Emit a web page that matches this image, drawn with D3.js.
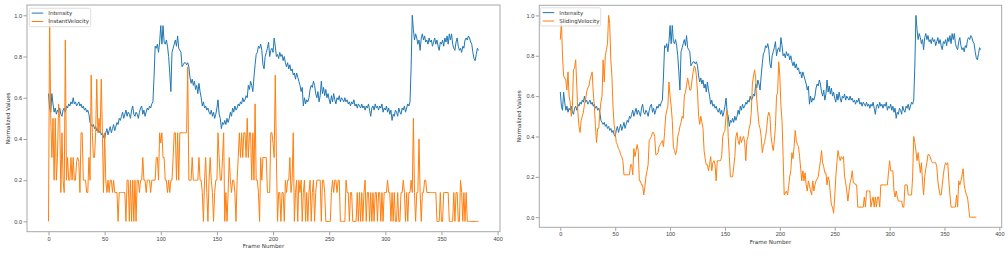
<!DOCTYPE html>
<html>
<head>
<meta charset="utf-8">
<script src="https://cdn.jsdelivr.net/npm/d3@7"></script>
<style>
    body { margin: 0; background: #fff; }
    svg { display: block; font-family: "DejaVu Sans", sans-serif; }
    .tick text { fill: #444; font-size: 5.6px; }
    .tick line { stroke: #888; stroke-width: 0.8; }
    .axis-label { fill: #333; font-size: 5.6px; }
    .legend text { fill: #333; font-size: 5.5px; }
</style>
</head>
<body>
<svg id="chart" width="1008" height="261"></svg>
<script>
// Intensity, frames 0..383
const intensity = [
    0.62, 0.55, 0.53, 0.62, 0.57, 0.53, 0.55, 0.52, 0.54, 0.53,
    0.55, 0.52, 0.51, 0.54, 0.55, 0.53, 0.56, 0.55, 0.57, 0.56,
    0.58, 0.57, 0.60, 0.57, 0.58, 0.56, 0.57, 0.58, 0.56, 0.57,
    0.55, 0.56, 0.54, 0.55, 0.53, 0.54, 0.52, 0.48, 0.47, 0.46,
    0.47, 0.45, 0.46, 0.44, 0.45, 0.43, 0.44, 0.42, 0.43, 0.41,
    0.40, 0.43, 0.45, 0.42, 0.44, 0.46, 0.43, 0.45, 0.47, 0.44,
    0.46, 0.48, 0.47, 0.50, 0.49, 0.51, 0.53, 0.50, 0.52, 0.54,
    0.51, 0.53, 0.52, 0.50, 0.54, 0.56, 0.52, 0.51, 0.53, 0.52,
    0.50, 0.53, 0.55, 0.56, 0.52, 0.54, 0.51, 0.53, 0.55, 0.54,
    0.56, 0.55, 0.57, 0.58, 0.70, 0.85, 0.84, 0.86, 0.82, 0.87,
    0.95, 0.86, 0.95, 0.87, 0.86, 0.88, 0.85, 0.80, 0.72, 0.63,
    0.82, 0.84, 0.86, 0.88, 0.85, 0.90, 0.84, 0.83, 0.82, 0.75,
    0.76, 0.77, 0.77, 0.76, 0.77, 0.75, 0.70, 0.67, 0.69, 0.66,
    0.68, 0.64, 0.66, 0.62, 0.67, 0.63, 0.60, 0.56, 0.58, 0.55,
    0.56, 0.54, 0.55, 0.53, 0.52, 0.54, 0.51, 0.53, 0.50, 0.52,
    0.55, 0.59, 0.52, 0.50, 0.45, 0.48, 0.47, 0.49, 0.47, 0.50,
    0.48, 0.50, 0.53, 0.51, 0.55, 0.53, 0.56, 0.54, 0.55, 0.57,
    0.56, 0.58, 0.57, 0.60, 0.58, 0.59, 0.61, 0.60, 0.66, 0.64,
    0.68, 0.66, 0.63, 0.70, 0.76, 0.81, 0.82, 0.85, 0.84, 0.86,
    0.83, 0.76, 0.74, 0.80, 0.82, 0.84, 0.87, 0.80, 0.83, 0.84,
    0.82, 0.89, 0.85, 0.80, 0.81, 0.79, 0.82, 0.80, 0.81, 0.78,
    0.80, 0.77, 0.75, 0.77, 0.74, 0.76, 0.73, 0.74, 0.71, 0.72,
    0.69, 0.72, 0.70, 0.68, 0.66, 0.63, 0.65, 0.56, 0.60, 0.57,
    0.59, 0.58, 0.60, 0.64, 0.66, 0.65, 0.68, 0.66, 0.62, 0.60,
    0.63, 0.58, 0.61, 0.68, 0.62, 0.65, 0.61, 0.64, 0.60, 0.62,
    0.59, 0.57, 0.61, 0.58, 0.62, 0.59, 0.57, 0.60, 0.59, 0.61,
    0.58, 0.60, 0.59, 0.58, 0.60, 0.58, 0.59, 0.57, 0.58, 0.56,
    0.58, 0.57, 0.59, 0.56, 0.57, 0.55, 0.57, 0.56, 0.55, 0.57,
    0.55, 0.56, 0.54, 0.56, 0.55, 0.57, 0.54, 0.51, 0.55, 0.56,
    0.54, 0.57, 0.55, 0.56, 0.54, 0.56, 0.55, 0.57, 0.53, 0.55,
    0.54, 0.56, 0.53, 0.55, 0.52, 0.54, 0.49, 0.52, 0.51, 0.54,
    0.53, 0.51, 0.55, 0.53, 0.52, 0.55, 0.54, 0.56, 0.53, 0.55,
    0.57, 0.56, 0.58, 0.75, 1.00, 0.93, 0.88, 0.91, 0.89, 0.86,
    0.88, 0.83, 0.89, 0.91, 0.88, 0.90, 0.87, 0.88, 0.86, 0.89,
    0.87, 0.88, 0.85, 0.87, 0.89, 0.86, 0.88, 0.85, 0.83, 0.87,
    0.86, 0.88, 0.85, 0.89, 0.87, 0.90, 0.86, 0.91, 0.88, 0.91,
    0.86, 0.84, 0.83, 0.87, 0.89, 0.85, 0.83, 0.84, 0.82, 0.85,
    0.84, 0.88, 0.89, 0.88, 0.90, 0.89, 0.87, 0.86, 0.82, 0.79,
    0.78, 0.81, 0.84, 0.83
];

// InstantVelocity, frames 0..383
const instantVelocity = [
    0, 1.0, 0.5, 0.31, 0.5, 0.2, 0.5, 0.2, 0.31, 0.57,
    0.5, 0.14, 0.43, 0.2, 0.14, 0.88, 0.2, 0.31, 0.2, 0.2,
    0.31, 0.2, 0.31, 0.2, 0.2, 0.29, 0.31, 0.29, 0.14, 0.43,
    0.43, 0.2, 0.2, 0.2, 0.14, 0.14, 0.31, 0.2, 0.71, 0.43,
    0.31, 0.31, 0.43, 0.69, 0.43, 0.5, 0.43, 0.69, 0.43, 0.14,
    0.43, 0.2, 0.14, 0.2, 0.14, 0.2, 0.2, 0.14, 0.2, 0.14,
    0.14, 0.14, 0, 0.14, 0.14, 0.14, 0.14, 0.14, 0.14, 0,
    0.2, 0.2, 0, 0.2, 0, 0.2, 0, 0.2, 0, 0.2,
    0.2, 0.14, 0.2, 0.2, 0.31, 0.2, 0.2, 0.14, 0.2, 0.2,
    0.2, 0.14, 0.2, 0.2, 0.2, 0.2, 0.31, 0.31, 0.2, 0.43,
    0.38, 0.43, 0.31, 0.31, 0.2, 0.2, 0.14, 0.2, 0.14, 0.2,
    0.2, 0.31, 0.43, 0.43, 0.2, 0.43, 0.2, 0.43, 0.43, 0.43,
    0.43, 0.43, 0.43, 0.43, 0.75, 0.2, 0.2, 0.2, 0.31, 0.2,
    0.2, 0.2, 0.2, 0.2, 0.31, 0.2, 0.2, 0.14, 0, 0.2,
    0.31, 0.14, 0, 0.2, 0.31, 0.2, 0.14, 0, 0.14, 0.2,
    0.2, 0.43, 0.31, 0.2, 0.2, 0.31, 0.43, 0, 0.14, 0,
    0.14, 0.31, 0.2, 0.14, 0.2, 0.2, 0.14, 0, 0.2, 0.31,
    0.43, 0.31, 0.43, 0.31, 0.43, 0.43, 0.31, 0.5, 0.31, 0.43,
    0.43, 0.2, 0.43, 0.2, 0.57, 0.2, 0.2, 0.14, 0, 0.31,
    0.2, 0.31, 0.31, 0.31, 0.31, 0.14, 0.14, 0.14, 0.43, 0.43,
    0.38, 0.31, 0.71, 0.31, 0, 0.14, 0.14, 0, 0.14, 0.14,
    0, 0.2, 0.14, 0.2, 0.2, 0.31, 0.14, 0.2, 0.43, 0,
    0.14, 0.2, 0, 0.2, 0.14, 0.2, 0, 0.14, 0.2, 0,
    0.14, 0, 0.14, 0.2, 0, 0.14, 0.2, 0, 0.14, 0.2,
    0.2, 0.2, 0.2, 0, 0.2, 0.2, 0.14, 0, 0, 0,
    0, 0, 0.14, 0.2, 0.14, 0.2, 0.2, 0.14, 0.2, 0.2,
    0, 0, 0, 0, 0, 0.2, 0.14, 0.14, 0, 0.14,
    0.14, 0, 0, 0, 0, 0.14, 0, 0.14, 0, 0.14,
    0, 0.14, 0.2, 0, 0.14, 0.14, 0, 0.14, 0, 0.14,
    0, 0.14, 0.14, 0, 0.14, 0.14, 0, 0.14, 0, 0.14,
    0.14, 0.14, 0.2, 0.14, 0.14, 0, 0.14, 0, 0.14, 0,
    0, 0.14, 0, 0, 0.14, 0.14, 0.2, 0.14, 0, 0.14,
    0, 0.14, 0.14, 0.2, 0.14, 0.5, 0.14, 0, 0.14, 0.14,
    0.4, 0.14, 0, 0.14, 0.14, 0.2, 0.2, 0.14, 0.14, 0.14,
    0.14, 0.14, 0.14, 0.14, 0.14, 0.14, 0, 0, 0, 0.14,
    0, 0, 0.14, 0.14, 0.14, 0.14, 0.14, 0, 0, 0,
    0, 0.14, 0, 0.14, 0.14, 0, 0, 0.2, 0.14, 0,
    0.14, 0, 0.14, 0, 0, 0, 0, 0, 0, 0,
    0, 0, 0, 0
];

// SlidingVelocity, frames 0..379
const slidingVelocity = [
    0.88, 0.97, 0.80, 0.70, 0.69, 0.68, 0.63, 0.72, 0.60, 0.57,
    0.50, 0.55, 0.73, 0.74, 0.78, 0.65, 0.52, 0.45, 0.42, 0.48,
    0.50, 0.52, 0.56, 0.58, 0.62, 0.64, 0.65, 0.68, 0.70, 0.72,
    0.62, 0.55, 0.45, 0.37, 0.44, 0.44, 0.52, 0.57, 0.60, 0.78,
    0.67, 0.80, 0.83, 0.86, 1.00, 0.96, 0.78, 0.70, 0.55, 0.46,
    0.42, 0.37, 0.36, 0.34, 0.33, 0.31, 0.30, 0.28, 0.21, 0.21,
    0.21, 0.21, 0.21, 0.21, 0.26, 0.26, 0.21, 0.34, 0.30, 0.33,
    0.36, 0.33, 0.18, 0.18, 0.16, 0.16, 0.11, 0.15, 0.20, 0.23,
    0.26, 0.38, 0.39, 0.40, 0.42, 0.42, 0.40, 0.31, 0.31, 0.32,
    0.35, 0.36, 0.37, 0.38, 0.35, 0.42, 0.50, 0.53, 0.55, 0.67,
    0.60, 0.55, 0.48, 0.35, 0.33, 0.31, 0.33, 0.40, 0.42, 0.45,
    0.47, 0.50, 0.49, 0.60, 0.62, 0.65, 0.69, 0.66, 0.63, 0.63,
    0.68, 0.72, 0.75, 0.74, 0.70, 0.62, 0.50, 0.46, 0.50, 0.47,
    0.44, 0.33, 0.29, 0.26, 0.26, 0.23, 0.26, 0.30, 0.23, 0.27,
    0.28, 0.26, 0.18, 0.28, 0.28, 0.28, 0.28, 0.30, 0.40, 0.42,
    0.43, 0.50, 0.53, 0.40, 0.30, 0.20, 0.20, 0.20, 0.25, 0.30,
    0.40, 0.42, 0.38, 0.36, 0.40, 0.37, 0.39, 0.40, 0.37, 0.28,
    0.38, 0.40, 0.44, 0.46, 0.52, 0.66, 0.70, 0.73, 0.69, 0.58,
    0.52, 0.46, 0.44, 0.40, 0.32, 0.35, 0.37, 0.40, 0.44, 0.50,
    0.52, 0.50, 0.40, 0.36, 0.33, 0.38, 0.45, 0.60, 0.62, 0.77,
    0.70, 0.55, 0.48, 0.30, 0.11, 0.12, 0.13, 0.11, 0.15, 0.20,
    0.23, 0.32, 0.29, 0.35, 0.43, 0.38, 0.36, 0.35, 0.30, 0.24,
    0.18, 0.23, 0.18, 0.22, 0.16, 0.13, 0.18, 0.16, 0.13, 0.11,
    0.18, 0.13, 0.16, 0.18, 0.19, 0.20, 0.24, 0.28, 0.33, 0.27,
    0.25, 0.22, 0.22, 0.16, 0.20, 0.18, 0.12, 0.06, 0.05, 0.02,
    0.10, 0.20, 0.27, 0.33, 0.30, 0.28, 0.30, 0.29, 0.30, 0.20,
    0.17, 0.13, 0.08, 0.13, 0.17, 0.19, 0.23, 0.17, 0.17, 0.16,
    0.16, 0.05, 0.05, 0.05, 0.05, 0.05, 0.05, 0.10, 0.05, 0.13,
    0.13, 0.13, 0.13, 0.05, 0.08, 0.10, 0.05, 0.10, 0.05, 0.10,
    0.10, 0.05, 0.16, 0.16, 0.16, 0.16, 0.16, 0.16, 0.16, 0.22,
    0.28, 0.23, 0.23, 0.23, 0.13, 0.10, 0.13, 0.10, 0.08, 0.08,
    0.08, 0.08, 0.05, 0.05, 0.16, 0.16, 0.16, 0.11, 0.11, 0.11,
    0.11, 0.20, 0.40, 0.37, 0.33, 0.28, 0.32, 0.27, 0.22, 0.27,
    0.18, 0.11, 0.20, 0.24, 0.27, 0.31, 0.31, 0.30, 0.28, 0.27,
    0.27, 0.27, 0.27, 0.25, 0.18, 0.14, 0.11, 0.11, 0.16, 0.21,
    0.25, 0.27, 0.26, 0.27, 0.18, 0.11, 0.05, 0.05, 0.05, 0.05,
    0.05, 0.11, 0.05, 0.18, 0.16, 0.18, 0.21, 0.24, 0.16, 0.13,
    0.11, 0.10, 0.05, 0.00, 0.00, 0.00, 0.00, 0.00, 0.00, 0.00
];

const xTicks = [0, 50, 100, 150, 200, 250, 300, 350, 400];
const yTicks = [0.0, 0.2, 0.4, 0.6, 0.8, 1.0];

// two figures side by side, slightly different sizes
const panels = [
    { box: [27, 5, 500, 231.7], second: instantVelocity, name: 'InstantVelocity',
      xlab: 248, ylabOff: 17, legend: [29.3, 8.3, 61.4, 18.4] },
    { box: [539.3, 5.3, 1001.7, 227.3], second: slidingVelocity, name: 'SlidingVelocity',
      xlab: 243.5, ylabOff: 18.5, legend: [540.3, 7.8, 60.4, 18.2] }
];

const blue = '#1f77b4', orange = '#ff7f0e';
const svg = d3.select('#chart');

panels.forEach(p => {
    const [x0, y0, x1, y1] = p.box;
    const x = d3.scaleLinear().domain([-19.15, 402.15]).range([x0, x1]);
    const y = d3.scaleLinear().domain([-0.05, 1.05]).range([y1, y0]);
    const g = svg.append('g');

    const line = d3.line().x((d, i) => x(i)).y(d => y(d));

    g.append('path').datum(intensity)
        .attr('d', line).attr('fill', 'none')
        .attr('stroke', blue).attr('stroke-width', 1);
    g.append('path').datum(p.second)
        .attr('d', line).attr('fill', 'none')
        .attr('stroke', orange).attr('stroke-width', 1);

    // axes (ticks only, frame drawn separately)
    g.append('g').attr('transform', `translate(0,${y1})`)
        .call(d3.axisBottom(x).tickValues(xTicks).tickSize(3.5).tickPadding(1.5))
        .call(a => a.select('.domain').remove());
    g.append('g').attr('transform', `translate(${x0},0)`)
        .call(d3.axisLeft(y).tickValues(yTicks).tickFormat(d3.format('.1f')).tickSize(3.5).tickPadding(1.5))
        .call(a => a.select('.domain').remove());
    g.selectAll('.tick text').attr('font-family', null).attr('font-size', null);

    g.append('rect')
        .attr('x', x0).attr('y', y0)
        .attr('width', x1 - x0).attr('height', y1 - y0)
        .attr('fill', 'none').attr('stroke', '#a8a8a8').attr('stroke-width', 1);

    g.append('text').attr('class', 'axis-label')
        .attr('x', (x0 + x1) / 2).attr('y', p.xlab)
        .attr('text-anchor', 'middle').text('Frame Number');
    g.append('text').attr('class', 'axis-label')
        .attr('transform', `translate(${x0 - p.ylabOff},${(y0 + y1) / 2}) rotate(-90)`)
        .attr('text-anchor', 'middle').text('Normalized Values');

    // legend
    const [lx, ly, lw, lh] = p.legend;
    const items = [['Intensity', blue], [p.name, orange]];
    const lg = g.append('g').attr('class', 'legend').attr('transform', `translate(${lx},${ly})`);
    lg.append('rect').attr('width', lw).attr('height', lh)
        .attr('rx', 1.5).attr('fill', '#fff').attr('fill-opacity', 0.8)
        .attr('stroke', '#d6d6d6').attr('stroke-width', 0.8);
    items.forEach(([label, c], i) => {
        const ry = 4.8 + i * 8.4;
        lg.append('line').attr('x1', 2.4).attr('x2', 14).attr('y1', ry).attr('y2', ry)
            .attr('stroke', c).attr('stroke-width', 1);
        lg.append('text').attr('x', 19).attr('y', ry + 2).text(label);
    });
});
</script>
</body>
</html>
